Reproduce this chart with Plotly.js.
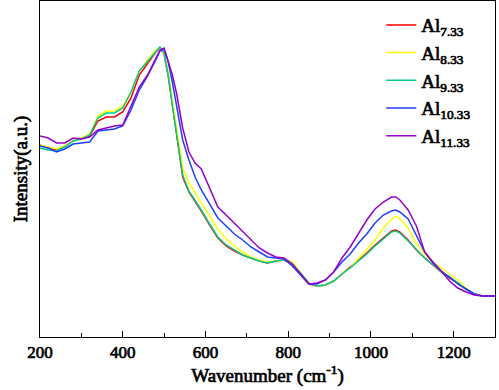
<!DOCTYPE html>
<html>
<head>
<meta charset="utf-8">
<script src="https://cdn.plot.ly/plotly-3.0.1.min.js"></script>
<style>html,body{margin:0;padding:0;background:#fff}#chart{width:499px;height:390px}
#chart svg text{stroke:#000;stroke-width:0.7px;paint-order:stroke}</style>
</head>
<body>
<div id="chart"></div>
<script>
const wavenumber = [200,220,240,260,280,300,320,340,360,380,400,420,440,460,480,490,500,510,520,530,545,560,575,590,610,630,650,670,690,710,730,750,770,790,810,830,850,870,890,910,930,950,970,990,1010,1030,1050,1060,1070,1090,1110,1130,1150,1170,1190,1210,1230,1250,1270,1300];

const al733 = [192,189,187,191,196,199,201,216,220,220,225,239,262,274,285,289,283,261,231,200,160,145,136,126,112,99,91,86,82,79,76,74,76,77,73,63,53,51,52,56,63,70,77,84,92,99,106,107,105,97,87,79,72,65,59,54,48,43,41,41];
const al833 = [192,190,188,191,196,199,203,221,226,226,231,245,266,277,287,289,283,265,237,209,169,154,144,134,120,108,98,91,85,80,77,75,76,78,75,64,54,51,52,56,63,69,78,87,97,109,118,121,118,109,94,83,75,69,63,57,49,43,41,41];
const al933 = [189,187,186,190,196,198,202,219,224,224,229,245,266,276,285,290,284,262,232,202,162,146,137,127,113,100,92,87,82,79,76,74,76,77,73,64,54,51,52,56,63,69,76,83,91,98,105,106,104,96,87,79,72,65,60,54,48,43,41,41];
const al1033 = [191,189,185,188,193,194,195,206,207,208,211,227,247,261,277,286,288,275,255,233,197,177,160,147,133,119,111,103,97,90,85,80,79,78,71,62,53,53,57,65,75,83,94,103,114,122,126,127,125,118,101,85,75,66,60,53,48,43,41,41];
const al1133 = [201,199,194,194,199,198,200,207,209,211,212,231,250,262,279,287,289,275,262,244,209,185,174,168,149,130,122,114,106,97,89,84,80,79,73,63,53,54,57,65,79,90,103,117,128,135,140,140,137,127,111,85,74,66,56,49,45,42,41,41];

const seriesNames = ['Al<sub>7.33</sub>','Al<sub>8.33</sub>','Al<sub>9.33</sub>','Al<sub>10.33</sub>','Al<sub>11.33</sub>'];
const seriesData = [al733, al833, al933, al1033, al1133];
const colors = ['#ff0000','#ffff00','#00cc8a','#1f3fff','#9900cc'];

const traces = seriesData.map((d,i)=>({
  x: wavenumber, y: d, type:'scatter', mode:'lines',
  name: seriesNames[i],
  legendgroup: 'g'+i,
  line:{color:colors[i], width:1.5}
}));

const FAM = 'Liberation Serif';

const layout = {
  width:499, height:390,
  margin:{l:40, r:4, t:1, b:53},
  paper_bgcolor:'#fff', plot_bgcolor:'#fff',
  font:{family:FAM, color:'#000', size:16},
  showlegend:true,
  legend:{x:0.75, y:0.985, xanchor:'left', yanchor:'top', bgcolor:'rgba(0,0,0,0)',
    font:{family:FAM, size:19, color:'#000'}, tracegroupgap:2, traceorder:'normal'},
  xaxis:{range:[200,1300], dtick:200, tick0:200, ticks:'inside', ticklen:6, tickwidth:1, tickcolor:'#000',
    showline:true, linecolor:'#000', linewidth:1, mirror:true, showgrid:false, zeroline:false,
    minor:{dtick:100, ticks:'inside', ticklen:4, tickwidth:1, tickcolor:'#000', showgrid:false},
    tickfont:{family:FAM, size:17, color:'#000'},
    title:{text:'Wavenumber (cm<sup>-1</sup>)', font:{family:FAM, size:19, color:'#000'}, standoff:5}},
  yaxis:{range:[0,336], showticklabels:false, ticks:'', showline:true, linecolor:'#000', linewidth:1,
    mirror:true, showgrid:false, zeroline:false,
    title:{text:'Intensity(a.u.)', font:{family:FAM, size:19, color:'#000'}, standoff:6}}
};

Plotly.newPlot('chart', traces, layout, {displayModeBar:false});
</script>
</body>
</html>
